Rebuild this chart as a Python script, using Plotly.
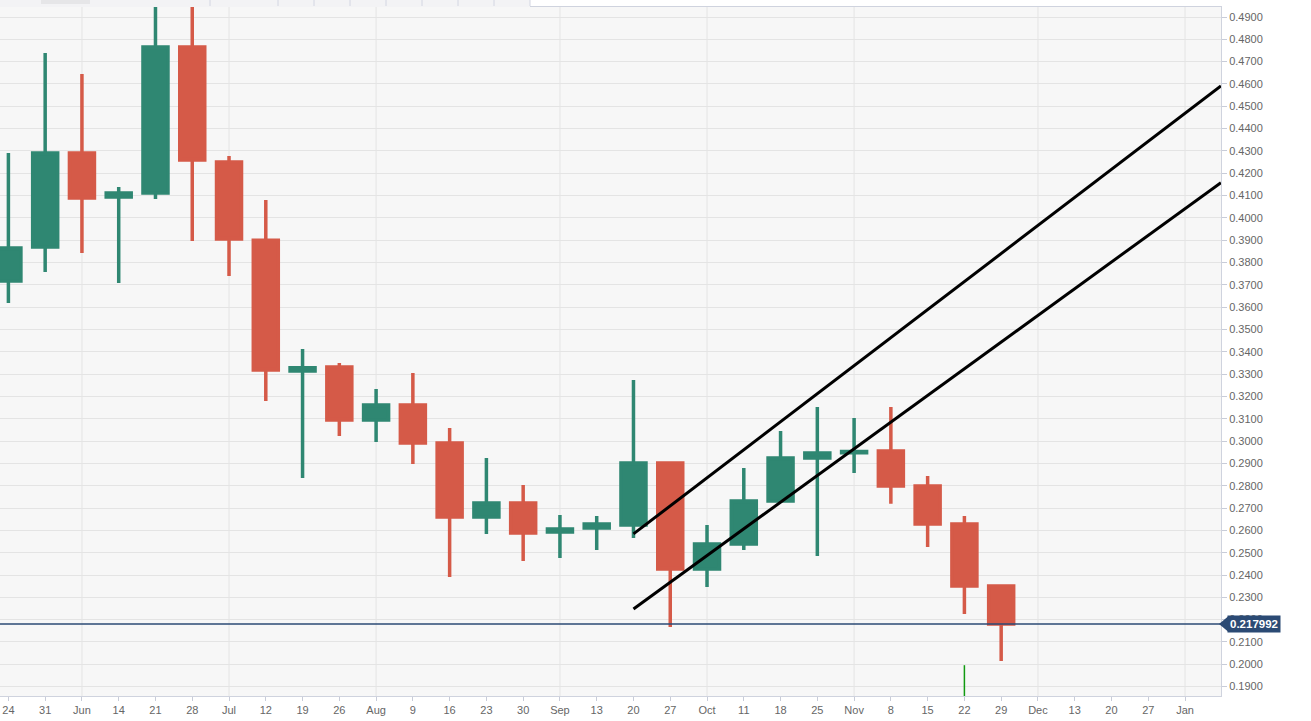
import plotly.graph_objects as go
import pandas as pd

# ---- data ----
weeks = pd.date_range("2021-05-24", periods=28, freq="7D")
opens  = [0.3717, 0.3870, 0.4291, 0.4093, 0.4111, 0.4766, 0.4250, 0.3900, 0.3314, 0.3332,
          0.3094, 0.3162, 0.2991, 0.2660, 0.2723, 0.2593, 0.2611, 0.2624, 0.2902, 0.2427,
          0.2539, 0.2732, 0.2924, 0.2948, 0.2956, 0.2799, 0.2629, 0.2351]
closes = [0.3865, 0.4291, 0.4089, 0.4111, 0.4766, 0.4259, 0.3905, 0.3318, 0.3328, 0.3094,
          0.3162, 0.2991, 0.2660, 0.2723, 0.2588, 0.2606, 0.2629, 0.2902, 0.2427, 0.2539,
          0.2732, 0.2924, 0.2947, 0.2953, 0.2799, 0.2629, 0.2351, 0.217992]
highs  = [0.4291, 0.4739, 0.4645, 0.4138, 0.4990, 0.4975, 0.4277, 0.4080, 0.3413, 0.3350,
          0.3233, 0.3305, 0.3059, 0.2924, 0.2803, 0.2669, 0.2664, 0.3274, 0.2902, 0.2624,
          0.2879, 0.3045, 0.3153, 0.3103, 0.3153, 0.2843, 0.2664, 0.2355]
lows   = [0.3619, 0.3758, 0.3843, 0.3708, 0.4085, 0.3896, 0.3740, 0.3180, 0.2835, 0.3023,
          0.2996, 0.2897, 0.2391, 0.2584, 0.2463, 0.2476, 0.2512, 0.2566, 0.2167, 0.2346,
          0.2512, 0.2732, 0.2485, 0.2857, 0.2719, 0.2525, 0.2225, 0.2015]

last_price = 0.217992

upper_x = ["2021-09-20", "2022-01-09 20:00"]
upper_y = [0.2584, 0.4591]
lower_x = ["2021-09-20", "2022-01-09 20:00"]
lower_y = [0.2248, 0.4158]

marker_x = ["2021-11-22", "2021-11-22"]
marker_y = [0.1996, 0.1850]

tick_dates = pd.date_range("2021-05-24", "2022-01-03", freq="7D")
x_range = ["2021-05-22 09:36", "2022-01-09 20:24"]
y_range = [0.18579, 0.49448]

GREEN = "#2f8772"
RED = "#d55a48"

# tick labels: month name at the first Monday of each month, else day
tick_text = []
month_starts = []
prev_month = None
for d in tick_dates:
    if d.month != prev_month and prev_month is not None:
        tick_text.append(d.strftime("%b"))
        month_starts.append(d)
    else:
        tick_text.append(str(d.day))
    prev_month = d.month

fig = go.Figure()

fig.add_trace(go.Candlestick(
    x=weeks, open=opens, high=highs, low=lows, close=closes,
    increasing=dict(line=dict(color=GREEN, width=3.5), fillcolor=GREEN),
    decreasing=dict(line=dict(color=RED, width=3.5), fillcolor=RED),
    whiskerwidth=0, showlegend=False, hoverinfo="skip",
))

fig.add_trace(go.Scatter(x=marker_x, y=marker_y, mode="lines",
                         line=dict(color="#119a11", width=1.5),
                         showlegend=False, hoverinfo="skip"))

for xs, ys in [(upper_x, upper_y), (lower_x, lower_y)]:
    fig.add_trace(go.Scatter(x=xs, y=ys, mode="lines",
                             line=dict(color="#000000", width=3),
                             showlegend=False, hoverinfo="skip"))

shapes = []
for d in month_starts:
    shapes.append(dict(type="line", xref="x", yref="paper", x0=d, x1=d, y0=0, y1=1,
                       line=dict(color="#e4e4e4", width=1), layer="below"))
# last price line
shapes.append(dict(type="line", xref="paper", yref="y", x0=0, x1=1,
                   y0=last_price, y1=last_price,
                   line=dict(color="#2b4a74", width=1.5), layer="above"))
# arrow of the price label
yfrac = (last_price - y_range[0]) / (y_range[1] - y_range[0])
shapes.append(dict(type="path", xref="paper", yref="paper",
                   xsizemode="pixel", ysizemode="pixel", xanchor=1, yanchor=yfrac,
                   path="M -2 0 L 7 7.5 L 7 -7.5 Z",
                   fillcolor="#2b4a74", line=dict(width=0)))
# top toolbar strip
shapes.append(dict(type="rect", xref="paper", yref="paper",
                   xsizemode="pixel", ysizemode="pixel", xanchor=0, yanchor=1,
                   x0=0, x1=530, y0=0, y1=7, fillcolor="#f3f3f5", line=dict(width=0)))
shapes.append(dict(type="rect", xref="paper", yref="paper",
                   xsizemode="pixel", ysizemode="pixel", xanchor=0, yanchor=1,
                   x0=41, x1=90, y0=3, y1=7, fillcolor="#e6e6e8", line=dict(width=0)))
for px in [210, 278, 314, 350, 386, 422, 458, 494, 530]:
    shapes.append(dict(type="line", xref="paper", yref="paper",
                       xsizemode="pixel", ysizemode="pixel", xanchor=0, yanchor=1,
                       x0=px, x1=px, y0=1, y1=7, line=dict(color="#d3d6e2", width=1)))

fig.update_layout(
    width=1311, height=721,
    margin=dict(l=0, r=90, t=7, b=25),
    paper_bgcolor="#ffffff",
    plot_bgcolor="#f7f7f7",
    boxgap=0.32, boxgroupgap=0,
    shapes=shapes,
    font=dict(family="Arial, Liberation Sans, sans-serif", size=11, color="#666666"),
    annotations=[dict(
        xref="paper", yref="y", x=1, y=last_price, xanchor="left", yanchor="middle",
        xshift=6, text="<b>%.6f</b>" % last_price, showarrow=False,
        bgcolor="#2b4a74", borderpad=2,
        font=dict(color="#ffffff", size=11.5, family="Arial, Liberation Sans, sans-serif"),
    )],
)

fig.update_xaxes(
    type="date", range=x_range, rangeslider=dict(visible=False),
    tickmode="array", tickvals=tick_dates, ticktext=tick_text,
    ticks="outside", ticklen=4, tickcolor="#c8ccd8",
    showgrid=False, zeroline=False,
    showline=True, linecolor="#cfd3de", linewidth=1, mirror=True,
    tickfont=dict(size=11, color="#666666"),
)
fig.update_yaxes(
    side="right", range=y_range, tick0=0.19, dtick=0.01, tickformat=".4f",
    ticks="outside", ticklen=5, tickcolor="#c8ccd8",
    showgrid=True, gridcolor="#e4e4e4", gridwidth=1, zeroline=False,
    showline=True, linecolor="#cfd3de", linewidth=1,
    tickfont=dict(size=11, color="#666666"),
)

fig.write_html(
    "out.html",
    config={"displayModeBar": False},
    post_script="document.body.style.margin='0px';document.body.style.overflow='hidden';",
)
